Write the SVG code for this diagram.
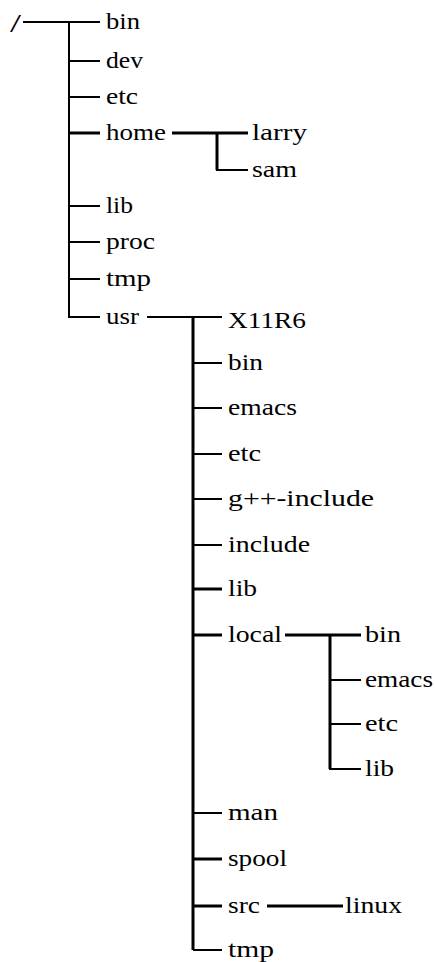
<svg xmlns="http://www.w3.org/2000/svg" width="435" height="962" viewBox="0 0 435 962">
<style>
text{font-family:'Liberation Serif',serif;font-size:23px;fill:#000}
.c path,.c line{stroke:#000;fill:none;stroke-width:2}
.c .t{stroke-width:3}
</style>
<rect width="435" height="962" fill="#fff"/>
<g class="c" id="connectors">
<line x1="23" y1="22" x2="100" y2="22"/>
<path d="M69 22 V317 H100"/>
<line x1="69" y1="61" x2="100" y2="61"/>
<line x1="69" y1="97" x2="100" y2="97"/>
<line class="t" x1="69" y1="133" x2="100" y2="133"/>
<line x1="69" y1="206" x2="100" y2="206"/>
<line x1="69" y1="242" x2="100" y2="242"/>
<line x1="69" y1="279" x2="100" y2="279"/>
<line class="t" x1="172" y1="133" x2="248" y2="133"/>
<path class="t" d="M217 133 V170"/>
<line x1="216" y1="170" x2="248" y2="170"/>
<line x1="147" y1="317" x2="222" y2="317"/>
<path class="t" d="M193 317 V950"/>
<line x1="193" y1="950" x2="222" y2="950"/>
<line x1="193" y1="363" x2="222" y2="363"/>
<line x1="193" y1="408" x2="222" y2="408"/>
<line x1="193" y1="454" x2="222" y2="454"/>
<line x1="193" y1="499" x2="222" y2="499"/>
<line x1="193" y1="545" x2="222" y2="545"/>
<line class="t" x1="193" y1="589" x2="222" y2="589"/>
<line class="t" x1="193" y1="635" x2="222" y2="635"/>
<line x1="193" y1="813" x2="222" y2="813"/>
<line class="t" x1="193" y1="859" x2="222" y2="859"/>
<line class="t" x1="193" y1="906" x2="222" y2="906"/>
<line class="t" x1="285" y1="635" x2="361" y2="635"/>
<path class="t" d="M330 635 V769"/>
<line x1="330" y1="680" x2="361" y2="680"/>
<line x1="330" y1="724" x2="361" y2="724"/>
<line x1="329" y1="769" x2="361" y2="769"/>
<line class="t" x1="267" y1="906" x2="343" y2="906"/>
</g>
<g id="root"><text x="10" y="32" style="font-size:25px" textLength="11" lengthAdjust="spacingAndGlyphs">/</text></g>
<g id="bin"><text x="106" y="29" textLength="34" lengthAdjust="spacingAndGlyphs">bin</text></g>
<g id="dev"><text x="106" y="68" textLength="37" lengthAdjust="spacingAndGlyphs">dev</text></g>
<g id="etc"><text x="106" y="104" textLength="32" lengthAdjust="spacingAndGlyphs">etc</text></g>
<g id="home"><text x="106" y="140" textLength="60" lengthAdjust="spacingAndGlyphs">home</text></g>
<g id="larry"><text x="252" y="140" textLength="55" lengthAdjust="spacingAndGlyphs">larry</text></g>
<g id="sam"><text x="252" y="177" textLength="45" lengthAdjust="spacingAndGlyphs">sam</text></g>
<g id="lib"><text x="106" y="213" textLength="27" lengthAdjust="spacingAndGlyphs">lib</text></g>
<g id="proc"><text x="106" y="249" textLength="49" lengthAdjust="spacingAndGlyphs">proc</text></g>
<g id="tmp"><text x="106" y="286" textLength="45" lengthAdjust="spacingAndGlyphs">tmp</text></g>
<g id="usr"><text x="106" y="324" textLength="33" lengthAdjust="spacingAndGlyphs">usr</text></g>
<g id="usr-X11R6"><text x="228" y="328" textLength="78" lengthAdjust="spacingAndGlyphs">X11R6</text></g>
<g id="usr-bin"><text x="228" y="370" textLength="35" lengthAdjust="spacingAndGlyphs">bin</text></g>
<g id="usr-emacs"><text x="228" y="415" textLength="69" lengthAdjust="spacingAndGlyphs">emacs</text></g>
<g id="usr-etc"><text x="228" y="461" textLength="33" lengthAdjust="spacingAndGlyphs">etc</text></g>
<g id="usr-gxx-include"><text x="228" y="506" textLength="146" lengthAdjust="spacingAndGlyphs">g++-include</text></g>
<g id="usr-include"><text x="228" y="552" textLength="82" lengthAdjust="spacingAndGlyphs">include</text></g>
<g id="usr-lib"><text x="228" y="596" textLength="29" lengthAdjust="spacingAndGlyphs">lib</text></g>
<g id="usr-local"><text x="228" y="642" textLength="54" lengthAdjust="spacingAndGlyphs">local</text></g>
<g id="local-bin"><text x="365" y="642" textLength="36" lengthAdjust="spacingAndGlyphs">bin</text></g>
<g id="local-emacs"><text x="365" y="687" textLength="68" lengthAdjust="spacingAndGlyphs">emacs</text></g>
<g id="local-etc"><text x="365" y="731" textLength="33" lengthAdjust="spacingAndGlyphs">etc</text></g>
<g id="local-lib"><text x="365" y="776" textLength="29" lengthAdjust="spacingAndGlyphs">lib</text></g>
<g id="usr-man"><text x="228" y="820" textLength="50" lengthAdjust="spacingAndGlyphs">man</text></g>
<g id="usr-spool"><text x="228" y="866" textLength="59" lengthAdjust="spacingAndGlyphs">spool</text></g>
<g id="usr-src"><text x="228" y="913" textLength="32" lengthAdjust="spacingAndGlyphs">src</text></g>
<g id="src-linux"><text x="345" y="913" textLength="57" lengthAdjust="spacingAndGlyphs">linux</text></g>
<g id="usr-tmp"><text x="228" y="957" textLength="46" lengthAdjust="spacingAndGlyphs">tmp</text></g>
</svg>
